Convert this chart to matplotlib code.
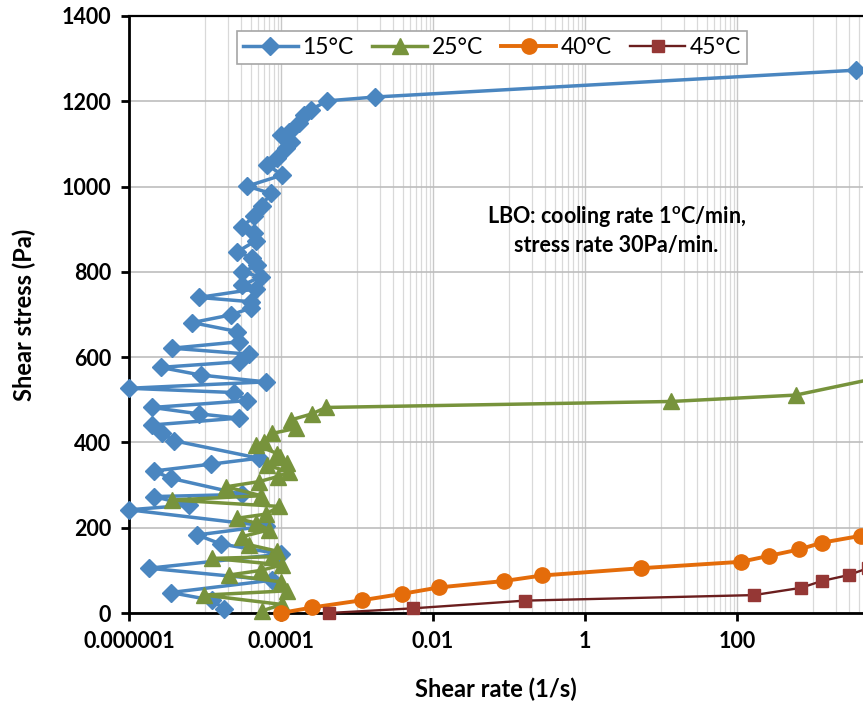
import matplotlib
matplotlib.use("Agg")
import matplotlib.pyplot as plt
from matplotlib.ticker import FixedLocator, FuncFormatter, NullFormatter

plt.rcParams['font.family'] = ['Lato', 'DejaVu Sans']

# ---- data: shear rate (1/s) and shear stress (Pa) ----
rate_15 = [1.78e-5, 1.24e-5, 3.54e-6, 7.7e-5, 1.83e-6, 9.9e-5, 1.61e-5, 7.9e-6,
           6.3e-5, 1.0e-6, 6.2e-6, 2.13e-6, 3.1e-5, 3.54e-6, 2.13e-6, 1.19e-5,
           5.1e-5, 3.9e-6, 2.74e-6, 2.03e-6, 2.8e-5, 8.3e-6, 2.03e-6, 3.6e-5,
           2.4e-5, 1.0e-6, 6.3e-5, 8.8e-6, 2.6e-6, 2.8e-5, 3.8e-5, 3.7e-6,
           2.8e-5, 2.66e-5, 6.8e-6, 2.18e-5, 4.0e-5, 4.0e-5, 8.3e-6, 4.65e-5,
           3.1e-5, 5.4e-5, 3.1e-5, 4.9e-5, 4.2e-5, 2.66e-5, 4.65e-5, 4.4e-5,
           3.1e-5, 4.4e-5, 5.6e-5, 7.3e-5, 3.6e-5, 1.04e-4, 6.6e-5, 8.9e-5,
           1.15e-4, 1.34e-4, 9.9e-5, 1.27e-4, 1.73e-4, 2.0e-4, 2.46e-4, 4.06e-4,
           1.73e-3, 3680]
stress_15 = [10, 30, 48, 77, 105, 138, 162, 183,
             204, 242, 253, 273, 278, 316, 333, 349,
             363, 404, 421, 441, 457, 467, 482, 498,
             517, 527, 542, 558, 576, 589, 607, 621,
             636, 660, 681, 699, 715, 730, 740, 760,
             769, 788, 800, 815, 832, 847, 873, 892,
             906, 930, 955, 984, 1001, 1027, 1051, 1066,
             1090, 1105, 1121, 1129, 1148, 1168, 1180, 1201,
             1210, 1273]

rate_25 = [5.6e-5, 1.03e-4, 9.7e-6, 1.2e-4, 1.0e-4, 2.07e-5, 5.5e-5, 1.03e-4,
           1.24e-5, 7.6e-5, 8.9e-5, 3.8e-5, 3.07e-5, 6.95e-5, 4.7e-5, 2.6e-5,
           6.4e-5, 9.4e-5, 3.7e-6, 5.5e-5, 1.9e-5, 5.1e-5, 9.1e-5, 1.27e-4,
           6.5e-5, 1.2e-4, 9.7e-5, 8.9e-5, 4.7e-5, 6.0e-5, 7.6e-5, 1.57e-4,
           1.36e-4, 2.56e-4, 3.9e-4, 13.4, 592, 7400]
stress_25 = [5, 20, 42, 52, 73, 89, 100, 113,
             128, 132, 145, 160, 179, 195, 211, 222,
             232, 250, 265, 275, 296, 308, 320, 331,
             347, 351, 365, 374, 394, 402, 421, 433,
             453, 467, 482, 496, 511, 552]

rate_40 = [1.0e-4, 2.58e-4, 1.17e-3, 3.95e-3, 0.012, 0.086, 0.274, 5.4,
           112, 264, 655, 1320, 4260]
stress_40 = [0, 13, 30, 45, 60, 75, 88, 105, 120, 134, 149, 165, 181]

rate_45 = [4.3e-4, 5.5e-3, 0.162, 167, 695, 1300, 2950, 5250]
stress_45 = [0, 11, 29, 42, 59, 75, 89, 105]

series_labels = ['15°C', '25°C', '40°C', '45°C']
x_tick_values = [1e-6, 1e-4, 1e-2, 1, 100]
x_tick_labels = ['0.000001', '0.0001', '0.01', '1', '100']
y_ticks = [0, 200, 400, 600, 800, 1000, 1200, 1400]

fig = plt.figure(figsize=(8.63, 7.08), dpi=100)
ax = fig.add_axes([129 / 863, 95 / 708, 734 / 863, 597 / 708])

ax.set_xscale('log')
ax.set_xlim(1e-6, 10 ** 3.658)
ax.set_ylim(0, 1400)

# grid: every decade with labels every two decades, minor lines k*10^odd
minor = [k * 10.0 ** e for e in (-5, -3, -1, 1, 3) for k in range(1, 10)]
ax.xaxis.set_major_locator(FixedLocator(x_tick_values))
ax.xaxis.set_major_formatter(FuncFormatter(
    lambda v, p: x_tick_labels[x_tick_values.index(v)] if v in x_tick_values else ''))
ax.xaxis.set_minor_locator(FixedLocator(minor))
ax.xaxis.set_minor_formatter(NullFormatter())
ax.yaxis.set_major_locator(FixedLocator(y_ticks))

ax.grid(True, which='major', axis='x', color='#c8c8c8', linewidth=1.0)
ax.grid(True, which='minor', axis='x', color='#d9d9d9', linewidth=0.9)
ax.grid(True, which='major', axis='y', color='#bdbdbd', linewidth=1.2)
ax.set_axisbelow(True)

ax.tick_params(axis='both', which='major', direction='out', length=6, width=2,
               labelsize=15.5, pad=7)
ax.tick_params(axis='x', which='minor', length=0)
for lbl in ax.get_xticklabels() + ax.get_yticklabels():
    lbl.set_fontweight('bold')

for side in ('left', 'bottom'):
    ax.spines[side].set_linewidth(2.0)
ax.spines['top'].set_linewidth(1.6)
ax.spines['right'].set_visible(False)

ax.plot(rate_15, stress_15, color='#4a86c0', lw=2.5, marker='D', ms=9.5,
        mfc='#4a86c0', mec='#4a86c0', label=series_labels[0], clip_on=False, zorder=3)
ax.plot(rate_25, stress_25, color='#77933c', lw=2.5, marker='^', ms=11,
        mfc='#77933c', mec='#77933c', label=series_labels[1], clip_on=False, zorder=4)
ax.plot(rate_40, stress_40, color='#e46c0a', lw=2.8, marker='o', ms=11,
        mfc='#e46c0a', mec='#e46c0a', label=series_labels[2], clip_on=False, zorder=5)
ax.plot(rate_45, stress_45, color='#6b1e1e', lw=1.7, marker='s', ms=9,
        mfc='#953735', mec='#953735', label=series_labels[3], clip_on=False, zorder=6)

ax.set_xlabel('Shear rate (1/s)', fontsize=17, fontweight='bold', labelpad=18)
ax.set_ylabel('Shear stress (Pa)', fontsize=17, fontweight='bold', labelpad=18)

ax.text(0.664, 0.642, 'LBO: cooling rate 1$^{\\mathregular{o}}$C/min,\nstress rate 30Pa/min.',
        transform=ax.transAxes, ha='center', va='center', fontsize=15.5,
        fontweight='bold', linespacing=1.35)

leg = fig.legend(loc='upper center', bbox_to_anchor=(492 / 863, 1 - 20 / 708), ncol=4,
                 fontsize=16.5, frameon=True, fancybox=False, edgecolor='#a6a6a6',
                 framealpha=1, handlelength=2.4, columnspacing=0.8, handletextpad=0.2,
                 borderpad=0.25)
leg.get_frame().set_linewidth(1.2)

fig.savefig('out.png', dpi=100)
